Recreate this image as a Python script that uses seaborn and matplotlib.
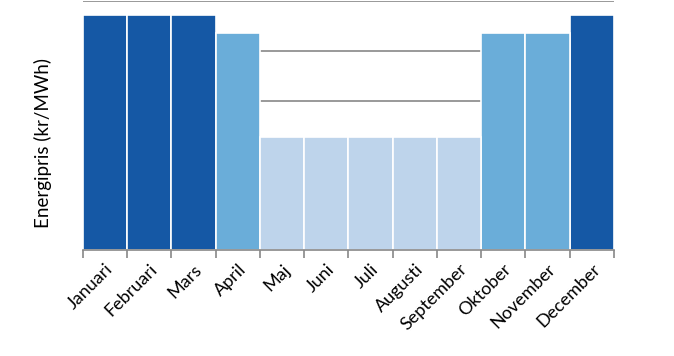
import numpy as np
import pandas as pd
import matplotlib
matplotlib.use("Agg")
import matplotlib.pyplot as plt
import seaborn as sns

months = ["Januari", "Februari", "Mars", "April", "Maj", "Juni", "Juli",
          "Augusti", "September", "Oktober", "November", "December"]
price = [472, 472, 472, 436, 226, 226, 226, 226, 226, 436, 436, 472]
level = ["hög", "hög", "hög", "mellan", "låg", "låg", "låg", "låg", "låg",
         "mellan", "mellan", "hög"]
level_colors = {"hög": "#1558a5", "mellan": "#6aadd9", "låg": "#bed4eb"}

df = pd.DataFrame({"month": months, "price": price, "level": level})

sns.set_theme(style="white")
plt.rcParams["font.family"] = ["Lato", "DejaVu Sans"]
plt.rcParams["text.color"] = "black"
plt.rcParams["axes.labelcolor"] = "black"
plt.rcParams["xtick.color"] = "black"

fig = plt.figure(figsize=(6.74, 3.56), dpi=100)
ax = fig.add_axes([0.123, 0.298, 0.788, 0.699])

sns.barplot(data=df, x="month", y="price", hue="level", palette=level_colors,
            dodge=False, width=1.0, edgecolor="white", linewidth=1.2,
            saturation=1, legend=False, ax=ax, zorder=2)

ax.set_ylim(0, 500)
ax.set_xlim(-0.5, 11.5)
ax.set_yticks(np.arange(0, 501, 100))
ax.yaxis.grid(True, color="#888888", linewidth=1.2, zorder=0)
ax.set_axisbelow(True)
ax.tick_params(axis="y", left=False, labelleft=False)

for s in ["top", "right", "left"]:
    ax.spines[s].set_visible(False)
ax.spines["bottom"].set_color("#888888")
ax.spines["bottom"].set_linewidth(1.2)

ax.set_xticks(range(12))
ax.set_xticklabels(months, rotation=45, ha="right", rotation_mode="anchor",
                   fontsize=13)
ax.tick_params(axis="x", which="major", length=0, pad=8, labelcolor="black")
ax.set_xticks(np.arange(-0.5, 12, 1), minor=True)
ax.tick_params(axis="x", which="minor", length=6, color="#888888",
               width=1.2, bottom=True)

ax.set_xlabel("")
ax.set_ylabel("Energipris (kr/MWh)", fontsize=13.5)
ax.yaxis.set_label_coords(-0.058, 0.43)

fig.savefig("out.png", dpi=100)
